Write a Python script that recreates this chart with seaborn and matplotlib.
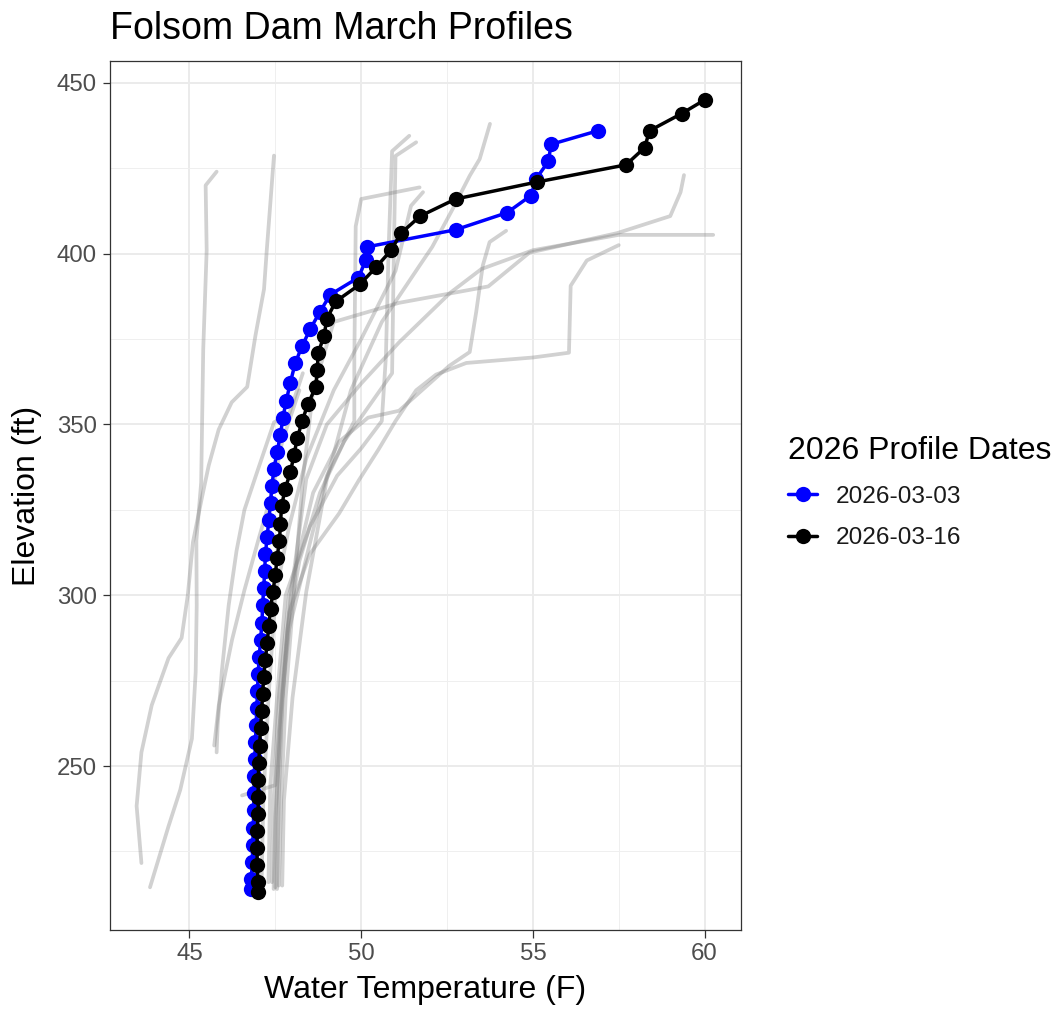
import pandas as pd
import numpy as np
import matplotlib
matplotlib.use("Agg")
import matplotlib.pyplot as plt
import seaborn as sns
from matplotlib.lines import Line2D
from matplotlib.ticker import MultipleLocator

# 2026 profiles (elevation ft, water temperature F)
dates = ['2026-03-03', '2026-03-16']
colors = ['blue', 'black']

mar03_elev = [436, 432, 427, 422, 417, 412, 407, 402, 398, 393,
              388, 383, 378, 373, 368, 362, 357, 352, 347, 342,
              337, 332, 327, 322, 317, 312, 307, 302, 297, 292,
              287, 282, 277, 272, 267, 262, 257, 252, 247, 242,
              237, 232, 227, 222, 217, 214]
mar03_temp = [56.9, 55.53, 55.45, 55.1, 54.94, 54.25, 52.75, 50.18, 50.13, 49.92,
              49.1, 48.8, 48.52, 48.28, 48.08, 47.93, 47.82, 47.72, 47.65, 47.55,
              47.46, 47.4, 47.36, 47.31, 47.26, 47.21, 47.19, 47.16, 47.13, 47.11,
              47.07, 47.03, 47.0, 46.98, 46.96, 46.94, 46.92, 46.9, 46.89, 46.88,
              46.87, 46.86, 46.84, 46.83, 46.8, 46.8]

mar16_elev = [445, 441, 436, 431, 426, 421, 416, 411, 406, 401,
              396, 391, 386, 381, 376, 371, 366, 361, 356, 351,
              346, 341, 336, 331, 326, 321, 316, 311, 306, 301,
              296, 291, 286, 281, 276, 271, 266, 261, 256, 251,
              246, 241, 236, 231, 226, 221, 216, 213]
mar16_temp = [60.0, 59.33, 58.4, 58.25, 57.71, 55.13, 52.75, 51.72, 51.16, 50.87,
              50.43, 49.96, 49.26, 49.0, 48.92, 48.75, 48.72, 48.68, 48.45, 48.28,
              48.14, 48.04, 47.94, 47.78, 47.68, 47.65, 47.62, 47.55, 47.5, 47.43,
              47.36, 47.31, 47.26, 47.21, 47.16, 47.13, 47.1, 47.07, 47.04, 47.02,
              47.0, 47.0, 47.0, 46.97, 46.97, 46.97, 47.0, 47.0]

# earlier March profiles, drawn in grey
p01_t = [45.79, 45.47, 45.5, 45.4, 45.34, 45.2, 45.21, 45.18, 45.07, 44.73, 44.39, 43.85]
p01_e = [424, 420, 401, 372, 333, 316, 297, 277.5, 258, 243, 232.4, 214.5]
p02_t = [47.46, 47.25, 47.17, 46.92, 46.68, 46.23, 45.85, 45.56, 45.35, 45.1, 44.95, 44.77,
         44.39, 43.9, 43.6, 43.46, 43.6]
p02_e = [428.7, 401, 389.6, 376, 361, 356.5, 348.5, 338, 328, 315.5, 300, 287.5,
         281.6, 267.8, 254, 238.3, 221.6]
p03_t = [48.3, 47.9, 47.46, 47.0, 46.6, 46.37, 46.14, 45.94, 45.82, 45.79]
p03_e = [365, 353, 350.6, 337, 325, 313, 297, 277.6, 262, 254]
p04_t = [48.2, 47.7, 47.4, 47.0, 46.6, 46.24, 45.85, 45.72]
p04_e = [360, 345, 330, 316, 301.5, 287, 267.6, 256]
p05_t = [60.25, 57.5, 55.0, 53.5, 52.6, 51.1, 50.0, 49.0, 48.4, 47.95, 47.7, 47.6, 47.55]
p05_e = [405.5, 405.5, 401, 395.5, 388.6, 374, 362, 350, 334, 300, 270, 240, 214]
p06_t = [59.4, 59.3, 59.0, 57.45, 54.9, 53.7, 51.1, 49.2, 48.6, 48.3, 48.04, 47.8, 47.67, 47.6]
p06_e = [423, 418, 411, 406, 400.3, 390.4, 385.6, 380, 360, 334, 301, 270, 240, 215]
p07_t = [57.5, 56.57, 56.1, 56.05, 55.0, 53.06, 52.18, 51.6, 51.0, 50.5, 49.94, 49.36,
         48.5, 47.9, 47.67, 47.55, 47.5]
p07_e = [402.5, 398, 390.6, 371, 369.6, 368, 364.6, 360, 351, 342.6, 333.8, 324,
         312, 295, 270, 240, 214.5]
p08_t = [54.22, 53.74, 53.54, 53.35, 53.16, 52.57, 51.1, 50.2, 49.36, 48.6, 47.9, 47.6, 47.45, 47.4]
p08_e = [406.7, 403.4, 396.5, 383, 371.2, 367.2, 354, 352, 345, 330, 300, 270, 240, 216]
p09_t = [53.75, 53.45, 53.16, 52.66, 52.07, 51.7, 50.6, 49.7, 49.0, 48.4, 48.0, 47.75, 47.7]
p09_e = [438, 427.7, 422.8, 413, 402, 396.5, 380, 360, 334, 301, 270, 240, 215]
p10_t = [51.4, 50.9, 50.8, 50.72, 50.6, 50.0, 49.3, 48.5, 47.8, 47.55, 47.35, 47.3]
p10_e = [434.5, 430, 402, 370, 351, 343, 335, 320, 300, 270, 244, 216]
p11_t = [51.6, 51.0, 50.95, 50.9, 50.2, 49.5, 48.8, 48.2, 47.85, 47.65, 47.5, 47.45]
p11_e = [432.6, 428.6, 400, 365, 355, 345, 330, 310, 290, 260, 235, 214]
p12_t = [51.7, 50.0, 49.84, 49.8, 49.8, 49.0, 48.5, 47.9, 47.6, 47.5, 46.53]
p12_e = [419.4, 416, 408, 369, 351, 335, 315, 290, 260, 244.4, 241.4]
p13_t = [51.8, 51.45, 51.0, 50.0, 49.2, 48.4, 47.9, 47.5, 47.3, 47.15, 47.1]
p13_e = [418, 414, 395, 375, 360, 340, 320, 300, 270, 240, 216]

hist_t = [p01_t, p02_t, p03_t, p04_t, p05_t, p06_t, p07_t, p08_t, p09_t, p10_t, p11_t, p12_t, p13_t]
hist_e = [p01_e, p02_e, p03_e, p04_e, p05_e, p06_e, p07_e, p08_e, p09_e, p10_e, p11_e, p12_e, p13_e]

hist = pd.concat([pd.DataFrame({'temp': t, 'elev': e, 'profile': i})
                  for i, (t, e) in enumerate(zip(hist_t, hist_e))], ignore_index=True)
cur = pd.concat([pd.DataFrame({'temp': mar03_temp, 'elev': mar03_elev, 'date': dates[0]}),
                 pd.DataFrame({'temp': mar16_temp, 'elev': mar16_elev, 'date': dates[1]})],
                ignore_index=True)

sns.set_theme(style="white")
plt.rcParams['font.family'] = ['Liberation Sans', 'DejaVu Sans']
plt.rcParams['text.color'] = 'black'
plt.rcParams['axes.labelcolor'] = 'black'

W, H = 1059, 1011
fig = plt.figure(figsize=(W / 100, H / 100), dpi=100)
ax = fig.add_axes([110 / W, 1 - 930 / H, (741 - 110) / W, (930 - 61) / H])

sns.lineplot(data=hist, x='temp', y='elev', units='profile', estimator=None, sort=False,
             color='grey', alpha=0.36, lw=2.7, legend=False, ax=ax)

palette = dict(zip(dates, colors))
sns.lineplot(data=cur, x='temp', y='elev', hue='date', hue_order=dates, palette=palette,
             estimator=None, sort=False, marker='o', markersize=11, markeredgewidth=0,
             lw=2.5, legend=False, ax=ax)

ax.set_xlim(42.685, 61.06)
ax.set_ylim(202.0, 456.4)
ax.xaxis.set_major_locator(MultipleLocator(5))
ax.xaxis.set_minor_locator(MultipleLocator(2.5))
ax.yaxis.set_major_locator(MultipleLocator(50))
ax.yaxis.set_minor_locator(MultipleLocator(25))
ax.grid(which='major', color='#EBEBEB', lw=1.4)
ax.grid(which='minor', color='#EFEFEF', lw=0.7)
ax.set_axisbelow(True)
for s in ax.spines.values():
    s.set_color('#333333')
    s.set_linewidth(0.9)
ax.tick_params(which='major', length=5.4, width=0.9, color='#333333', pad=4,
               labelsize=17.3, labelcolor='#4D4D4D', bottom=True, left=True)
ax.tick_params(which='minor', length=0)

ax.set_xlabel('Water Temperature (F)', fontsize=23, labelpad=7, color='black')
ax.set_ylabel('Elevation (ft)', fontsize=23, labelpad=11, color='black')
ax.set_title('Folsom Dam March Profiles', loc='left', fontsize=27, pad=16, color='black')

handles = [Line2D([], [], color=c, marker='o', markersize=11, markeredgewidth=0, lw=2.5)
           for c in colors]
leg = ax.legend(handles, dates, title='2026 Profile Dates', loc='upper left',
                bbox_to_anchor=(788 / W, 1 - 436 / H), bbox_transform=fig.transFigure,
                frameon=False, borderpad=0, borderaxespad=0, handlelength=1.2,
                handletextpad=0.75, labelspacing=0.8, fontsize=17.6, title_fontsize=23,
                alignment='left')
for txt in leg.get_texts():
    txt.set_color('#1A1A1A')

fig.savefig('out.png', dpi=100)
